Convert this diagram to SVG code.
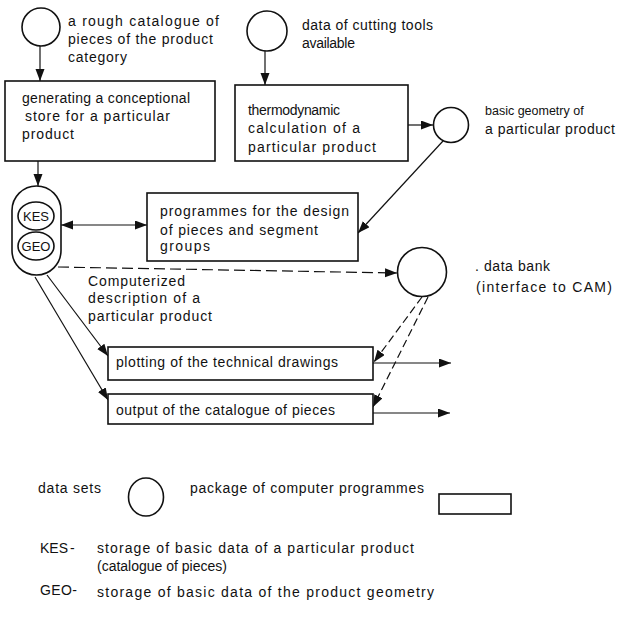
<svg xmlns="http://www.w3.org/2000/svg" width="621" height="617" viewBox="0 0 621 617">
<style>
text{font-family:"Liberation Sans",Arial,sans-serif;font-size:14px;fill:#111}
.s{font-size:13px}
.n{fill:#fff;stroke:#111;stroke-width:1.6}
.c{fill:none;stroke:#111;stroke-width:1.2}
.d{stroke-dasharray:11 5}
.d2{stroke-dasharray:8 4}
</style>
<defs>
<marker id="a" markerUnits="userSpaceOnUse" markerWidth="13" markerHeight="10" refX="12" refY="4.5" orient="auto-start-reverse"><path d="M0,0 L12,4.5 L0,9 z" fill="#111"/></marker>
</defs>
<rect width="621" height="617" fill="#fff"/>
<g id="connectors">
<line class="c" x1="40" y1="46" x2="40" y2="81" marker-end="url(#a)"/>
<line class="c" x1="38" y1="161" x2="38" y2="186" marker-end="url(#a)"/>
<line class="c" x1="265" y1="51" x2="265" y2="85" marker-end="url(#a)"/>
<line class="c" x1="408" y1="125" x2="433" y2="125" marker-end="url(#a)"/>
<line class="c" x1="443" y1="141" x2="358" y2="233" marker-end="url(#a)"/>
<line class="c" x1="61" y1="225" x2="147" y2="225" marker-start="url(#a)" marker-end="url(#a)"/>
<line class="c d" x1="58" y1="267" x2="397" y2="273" marker-end="url(#a)"/>
<line class="c" x1="47" y1="275" x2="108" y2="356" marker-end="url(#a)"/>
<line class="c" x1="35" y1="277" x2="108" y2="400" marker-end="url(#a)"/>
<line class="c d2" x1="422" y1="297" x2="374" y2="362" marker-end="url(#a)"/>
<line class="c d2" x1="428" y1="297" x2="373" y2="407" marker-end="url(#a)"/>
<line class="c" x1="373" y1="363" x2="451" y2="363" marker-end="url(#a)"/>
<line class="c" x1="373" y1="413" x2="450" y2="413" marker-end="url(#a)"/>
</g>
<g id="rough-catalogue">
<circle class="n" cx="41" cy="27" r="19"/>
<text x="68" y="26" textLength="151">a rough catalogue of</text>
<text x="68" y="44" textLength="145">pieces of the product</text>
<text x="68" y="62" textLength="59">category</text>
</g>
<g id="generating-store">
<rect class="n" x="5" y="81" width="210" height="80"/>
<text x="22" y="103" textLength="168">generating a conceptional</text>
<text x="25" y="121" textLength="145">store for a particular</text>
<text x="22" y="139" textLength="52">product</text>
</g>
<g id="cutting-tools">
<circle class="n" cx="267" cy="31" r="20"/>
<text x="302" y="30" textLength="131">data of cutting tools</text>
<text x="302" y="48" textLength="53">available</text>
</g>
<g id="thermodynamic">
<rect class="n" x="235" y="85" width="173" height="76"/>
<text x="248" y="115" textLength="92">thermodynamic</text>
<text x="248" y="133" textLength="112">calculation of a</text>
<text x="248" y="152" textLength="128">particular product</text>
</g>
<g id="basic-geometry">
<circle class="n" cx="451" cy="125" r="17.5"/>
<text x="485" y="115" style="font-size:12.5px">basic geometry of</text>
<text x="485" y="134" textLength="130">a particular product</text>
</g>
<g id="kes-geo">
<rect class="n" x="12" y="186" width="49" height="89" rx="24.5" ry="24.5"/>
<ellipse class="n" cx="36" cy="216" rx="18" ry="14"/>
<ellipse class="n" cx="36" cy="246" rx="18" ry="14"/>
<text x="36" y="221" text-anchor="middle" class="s">KES</text>
<text x="36" y="251" text-anchor="middle" class="s">GEO</text>
</g>
<g id="design-programmes">
<rect class="n" x="147" y="193" width="211" height="68"/>
<text x="160" y="216" textLength="189">programmes for the design</text>
<text x="160" y="235" textLength="158">of pieces and segment</text>
<text x="160" y="251" textLength="50">groups</text>
</g>
<text x="88" y="286" textLength="97">Computerized</text>
<text x="88" y="303" textLength="112">description of a</text>
<text x="88" y="321" textLength="124">particular product</text>
<g id="data-bank">
<circle class="n" cx="422" cy="272" r="24.5"/>
<text x="475" y="271" textLength="75">. data bank</text>
<text x="476" y="292" textLength="136">(interface to CAM)</text>
</g>
<g id="plotting">
<rect class="n" x="108" y="347" width="265" height="33"/>
<text x="116" y="367" textLength="222">plotting of the technical drawings</text>
</g>
<g id="output-catalogue">
<rect class="n" x="108" y="394" width="265" height="30"/>
<text x="116" y="415" textLength="219">output of the catalogue of pieces</text>
</g>
<g id="legend">
<text x="38" y="493" textLength="63">data sets</text>
<ellipse class="n" cx="146" cy="497" rx="17.5" ry="19"/>
<text x="190" y="493" textLength="234">package of computer programmes</text>
<rect class="n" x="439" y="494" width="72" height="20"/>
<text x="40" y="553">KES</text>
<text x="70" y="553">-</text>
<text x="97" y="553" textLength="317">storage of basic data of a particular product</text>
<text x="97" y="571">(catalogue of pieces)</text>
<text x="40" y="595" textLength="37">GEO-</text>
<text x="97" y="597" textLength="337">storage of basic data of the product geometry</text>
</g>
</svg>
